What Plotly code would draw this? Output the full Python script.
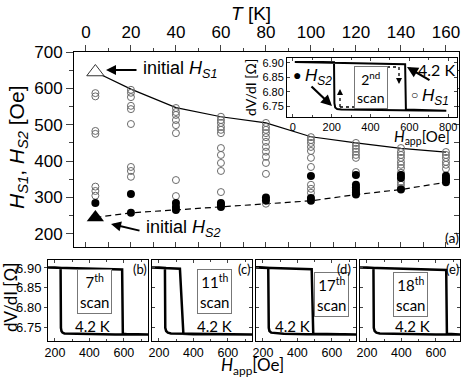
import plotly.graph_objects as go

W, H = 464, 379


def px(x):
    return x / W


def py(y):
    return 1 - y / H


# ---- panel (a): switching fields vs temperature ----
temps = [4.2, 20, 40, 60, 80, 100, 120, 140, 160]
hs1_open = [
    [587, 578, 483, 475, 330, 318, 305],
    [596, 588, 576, 552, 543, 502, 384, 373, 357],
    [546, 535, 527, 513, 499, 477, 348, 304],
    [522, 513, 505, 494, 486, 477, 436, 417, 395, 373, 315],
    [505, 494, 486, 477, 466, 453, 439, 426, 412, 395, 365, 283],
    [466, 458, 450, 439, 428, 409, 384, 335, 324, 313],
    [450, 442, 434, 426, 417, 409, 370],
    [436, 425, 417, 409, 398, 390, 381, 368, 343, 335, 326],
    [425, 417, 409, 398, 390, 379],
]
hs2_filled = [
    [285],
    [310, 258],
    [285, 274, 266],
    [285, 280, 274],
    [300, 292],
    [359, 299, 291],
    [362, 335, 328, 321, 314, 308],
    [362, 354, 322],
    [360, 354, 348, 342],
]
hs1_initial = 645
hs2_initial = 245
hs1_max = [645, 598, 547, 522, 505, 467, 450, 435, 425]
hs2_min = [245, 258, 266, 274, 283, 291, 308, 322, 342]

# ---- inset: 2nd scan at 4.2 K ----
scan2_h = [10, 200, 400, 578, 582, 650, 790, 650, 450, 300, 250, 228, 218, 214, 212, 150, 10]
scan2_r = [6.903, 6.901, 6.898, 6.895, 6.738, 6.736, 6.734, 6.735, 6.736, 6.737, 6.738, 6.740,
           6.745, 6.760, 6.902, 6.903, 6.903]

# ---- panels (b)-(e): later scans at 4.2 K ----
scan7_h = [160, 250, 350, 450, 550, 590, 594, 620, 680, 740, 650, 550, 450, 350, 280, 255, 244, 238, 235, 233, 200, 160]
scan7_r = [6.901, 6.900, 6.899, 6.898, 6.897, 6.896, 6.735, 6.734, 6.734, 6.733, 6.733, 6.733, 6.734,
           6.734, 6.735, 6.736, 6.738, 6.742, 6.750, 6.900, 6.901, 6.901]
scan11_h = [160, 200, 260, 322, 342, 400, 550, 740, 600, 450, 320, 270, 252, 242, 237, 235, 200, 160]
scan11_r = [6.901, 6.900, 6.899, 6.898, 6.735, 6.734, 6.734, 6.733, 6.733, 6.734, 6.735, 6.736,
            6.738, 6.742, 6.750, 6.900, 6.901, 6.901]
scan17_h = [160, 250, 350, 483, 492, 550, 650, 740, 600, 450, 320, 268, 248, 238, 234, 231, 200, 160]
scan17_r = [6.901, 6.900, 6.899, 6.897, 6.735, 6.734, 6.734, 6.733, 6.733, 6.734, 6.735, 6.736,
            6.738, 6.742, 6.750, 6.900, 6.901, 6.901]
scan18_h = [160, 250, 400, 550, 660, 664, 700, 740, 600, 450, 320, 275, 255, 245, 240, 238, 200, 160]
scan18_r = [6.901, 6.900, 6.899, 6.897, 6.895, 6.735, 6.734, 6.733, 6.733, 6.734, 6.735, 6.736,
            6.738, 6.742, 6.750, 6.900, 6.901, 6.901]

SANS = "Liberation Sans"
MYR = "Lato"

fig = go.Figure()

# guide lines through extreme values
fig.add_trace(go.Scatter(x=temps, y=hs1_max, mode="lines", line=dict(color="black", width=1.2),
                         xaxis="x", yaxis="y"))
fig.add_trace(go.Scatter(x=temps, y=hs2_min, mode="lines", line=dict(color="black", width=1.2, dash="6px,4px"),
                         xaxis="x", yaxis="y"))

ox, oy, fx, fy = [], [], [], []
for t, opens, fills in zip(temps, hs1_open, hs2_filled):
    ox += [t] * len(opens)
    oy += opens
    fx += [t] * len(fills)
    fy += fills
fig.add_trace(go.Scatter(x=ox, y=oy, mode="markers",
                         marker=dict(symbol="circle-open", size=7, color="#6a6a6a", line=dict(width=1)),
                         xaxis="x", yaxis="y"))
fig.add_trace(go.Scatter(x=fx, y=fy, mode="markers", marker=dict(symbol="circle", size=8, color="black"),
                         xaxis="x", yaxis="y"))
fig.add_trace(go.Scatter(x=[temps[0]], y=[hs1_initial], mode="markers",
                         marker=dict(symbol="triangle-up", size=15, color="white", line=dict(color="#333", width=1)),
                         xaxis="x", yaxis="y"))
fig.add_trace(go.Scatter(x=[temps[0]], y=[hs2_initial], mode="markers",
                         marker=dict(symbol="triangle-up", size=15, color="black"),
                         xaxis="x", yaxis="y"))
# dummy trace for the mirrored bottom/right axes
fig.add_trace(go.Scatter(x=[None], y=[None], xaxis="x2", yaxis="y2"))

# inset
fig.add_trace(go.Scatter(x=scan2_h, y=scan2_r, mode="lines", line=dict(color="black", width=2),
                         xaxis="x3", yaxis="y3"))

# lower panels
for i, (hh, rr) in enumerate([(scan7_h, scan7_r), (scan11_h, scan11_r),
                              (scan17_h, scan17_r), (scan18_h, scan18_r)]):
    fig.add_trace(go.Scatter(x=hh, y=rr, mode="lines", line=dict(color="black", width=2.5),
                             xaxis=f"x{i + 4}", yaxis=f"y{i + 4}"))

axline = dict(showline=True, linecolor="black", linewidth=1, showgrid=False, zeroline=False,
              automargin=False)
t_range = [-5.3, 165.8]
h_range = [164, 700]

layout = dict(
    width=W, height=H,
    margin=dict(l=0, r=0, t=0, b=0, pad=0, autoexpand=False),
    paper_bgcolor="white", plot_bgcolor="white",
    showlegend=False,
    font=dict(family=SANS, color="black"),
    xaxis=dict(domain=[px(74), px(459)], range=t_range, side="top", anchor="y",
               ticks="outside", ticklen=6, dtick=20, tick0=0,
               minor=dict(ticks="outside", dtick=10, ticklen=3),
               tickfont=dict(size=17), **axline),
    yaxis=dict(domain=[py(247), py(52)], range=h_range, anchor="x",
               ticks="outside", ticklen=7, dtick=100, tick0=0,
               minor=dict(ticks="outside", dtick=50, ticklen=4),
               tickfont=dict(size=17), **axline),
    xaxis2=dict(overlaying="x", anchor="y2", side="bottom", range=t_range,
                ticks="inside", ticklen=5, dtick=10, tick0=0, showticklabels=False, **axline),
    yaxis2=dict(overlaying="y", anchor="x2", side="right", range=h_range,
                ticks="inside", ticklen=5, dtick=50, tick0=0, showticklabels=False, **axline),
    xaxis3=dict(domain=[px(287), px(457)], range=[-30, 845], anchor="y3",
                ticks="inside", ticklen=3, dtick=200, tick0=0, mirror="ticks",
                minor=dict(ticks="inside", dtick=100, ticklen=2),
                tickfont=dict(size=11), **axline),
    yaxis3=dict(domain=[py(117), py(58)], range=[6.712, 6.917], anchor="x3",
                ticks="inside", ticklen=3, tickvals=[6.75, 6.80, 6.85, 6.90], tickformat=".2f",
                mirror="ticks", tickfont=dict(size=11), **axline),
)

panel_px = [(48, 148), (152, 252), (256, 356), (360, 460)]
for i, (l, r) in enumerate(panel_px):
    n = i + 4
    layout[f"xaxis{n}"] = dict(domain=[px(l), px(r)], range=[160, 740], anchor=f"y{n}",
                               ticks="inside", ticklen=3, tickvals=[200, 400, 600], mirror="ticks",
                               minor=dict(ticks="inside", dtick=100, ticklen=2),
                               tickfont=dict(size=12.5), **axline)
    layout[f"yaxis{n}"] = dict(domain=[py(341), py(260)], range=[6.717, 6.92], anchor=f"x{n}",
                               ticks="outside" if i == 0 else "inside", ticklen=3,
                               tickvals=[6.75, 6.80, 6.85, 6.90], tickformat=".2f",
                               mirror="ticks" if i else True, showticklabels=(i == 0),
                               tickfont=dict(size=13), **axline)

fig.update_layout(**layout)


def label(x, y, text, size, family=SANS, xanchor="center", **kw):
    fig.add_annotation(x=px(x), y=py(y), xref="paper", yref="paper", text=text, showarrow=False,
                       xanchor=xanchor, yanchor="middle",
                       font=dict(size=size, family=family, color="black"), **kw)


def arrow(hx, hy, ax, ay, width=2):
    fig.add_annotation(x=px(hx), y=py(hy), xref="paper", yref="paper", ax=ax, ay=ay, text="",
                       showarrow=True, arrowhead=2, arrowsize=1, arrowwidth=width, arrowcolor="black")


HS1 = "<i>H</i><sub><i>S1</i></sub>"
HS2 = "<i>H</i><sub><i>S2</i></sub>"

# main panel text
label(251, 14, "<i>T</i> [K]", 19)
label(18, 148, f"{HS1}, {HS2} [Oe]", 21, textangle=-90)
arrow(106, 70, 32, 0)
label(141, 70, "initial " + HS1, 18, xanchor="left")
arrow(111, 224, 30, 7)
label(144, 228, "initial " + HS2, 18, xanchor="left")
label(452, 237, "(a)", 14, MYR)

# inset text
label(251, 88, "dV/dI [Ω]", 14, MYR, textangle=-90)
label(422, 137, "<i>H</i><sub>app</sub>[Oe]", 15, MYR)
label(297, 75, "●", 14)
label(303, 77, HS2, 17, xanchor="left")
label(414, 95, "○", 12)
label(420, 97, HS1, 17, xanchor="left")
label(436, 70, "4.2 K", 16, MYR)
label(371, 87, "2<sup>nd</sup><br>scan", 14, MYR, bordercolor="#777", borderwidth=1, borderpad=2,
      bgcolor="white")
arrow(332, 106, -22, -21, 2.2)
arrow(407, 67, 24, 14, 2.2)
dots = dict(color="black", width=1.3, dash="dot")
for x0, y0, x1, y1 in [(340, 107, 340, 93), (340, 107, 366, 107), (375, 67, 399, 67), (399, 67, 399, 80)]:
    fig.add_shape(type="line", xref="paper", yref="paper", x0=px(x0), y0=py(y0), x1=px(x1), y1=py(y1),
                  line=dots)
for hx, hy, ay in [(340, 89, 5), (399, 84, -5)]:
    fig.add_annotation(x=px(hx), y=py(hy), xref="paper", yref="paper", ax=0, ay=ay, text="",
                       showarrow=True, arrowhead=2, arrowsize=1.2, arrowwidth=1, arrowcolor="black")

# lower panels text
scan_names = ["7<sup>th</sup><br>scan", "11<sup>th</sup><br>scan", "17<sup>th</sup><br>scan", "18<sup>th</sup><br>scan"]
box_x = [94, 214, 331, 410]
box_y = [291, 291, 294, 294]
k_x = [92, 214, 292, 412]
tag_x = [140, 244, 344, 452]
for name, bx, by, kx, tx, tag in zip(scan_names, box_x, box_y, k_x, tag_x, ["(b)", "(c)", "(d)", "(e)"]):
    label(bx, by, name, 15, MYR, bordercolor="#777", borderwidth=1, borderpad=2, bgcolor="white")
    label(kx, 326, "4.2 K", 15, MYR)
    label(tx, 269, tag, 13, MYR)
label(252, 366, "<i>H</i><sub>app</sub>[Oe]", 17, MYR)
label(10, 298, "dV/dI [Ω]", 17, MYR, textangle=-90)

fig.write_html("out.html", config={"displayModeBar": False},
               post_script="document.body.style.margin='0';")
